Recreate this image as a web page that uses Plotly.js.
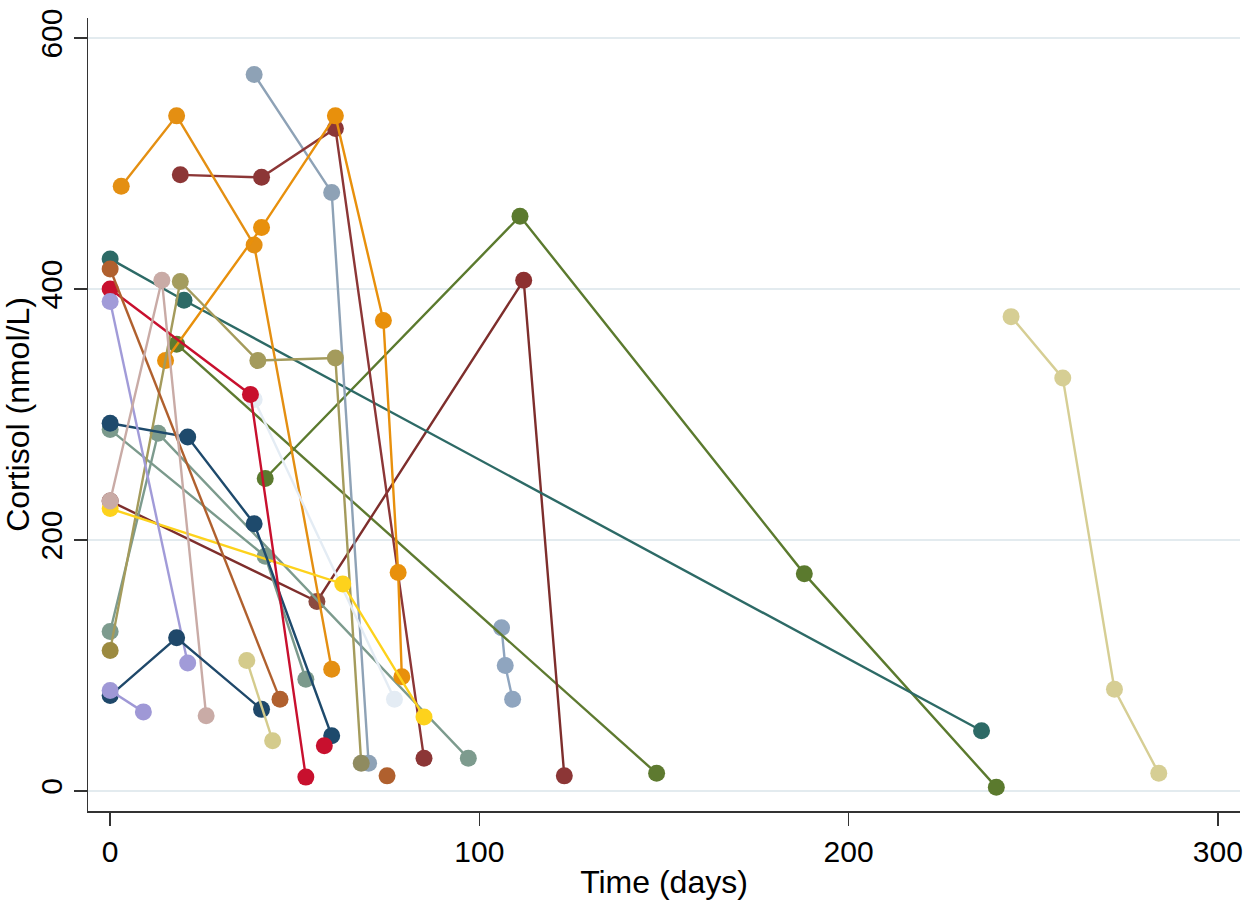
<!DOCTYPE html>
<html>
<head>
<meta charset="utf-8">
<script src="https://cdn.plot.ly/plotly-3.0.1.min.js"></script>
<style>
html,body{margin:0;padding:0;background:#fff;}
#chart{width:1247px;height:900px;}
</style>
</head>
<body>
<div id="chart"></div>
<script>
// ---- Data: time (days) and cortisol (nmol/L) per patient ----
const p01_t = [0, 20, 236];            const p01_c = [424, 391, 48];
const p02_t = [0, 46];                 const p02_c = [416, 73];
const p03_t = [0, 38, 53];             const p03_c = [400, 316, 11];
const p04_t = [0, 21];                 const p04_c = [390, 102];
const p05_t = [0, 14, 26];             const p05_c = [231, 407, 60];
const p06_t = [0, 56, 112, 123];       const p06_c = [231, 151, 407, 12];
const p07_t = [0, 63, 85];             const p07_c = [225, 165, 59];
const p08_t = [0, 21, 39, 60];         const p08_c = [293, 282, 213, 44];
const p09_t = [0, 42, 53];             const p09_c = [288, 187, 89];
const p10_t = [0, 13, 97];             const p10_c = [127, 285, 26];
const p11_t = [0, 19, 40, 61, 68];     const p11_c = [112, 406, 343, 345, 22];
const p12_t = [18, 148];               const p12_c = [356, 14];
const p13_t = [0, 18, 41];             const p13_c = [76, 122, 65];
const p14_t = [0, 9];                  const p14_c = [80, 63];
const p15_t = [3, 18, 39, 60];         const p15_c = [482, 538, 435, 97];
const p16_t = [15, 41, 61, 74, 78, 79]; const p16_c = [343, 449, 538, 375, 174, 91];
const p17_t = [19, 41, 61, 85];        const p17_c = [491, 489, 528, 26];
const p18_t = [39, 60, 70];            const p18_c = [571, 477, 22];
const p19_t = [39, 77];                const p19_c = [312, 73];
const p20_t = [42, 111, 188, 240];     const p20_c = [249, 458, 173, 3];
const p21_t = [37, 44];                const p21_c = [104, 40];
const p22_t = [106, 107, 109];         const p22_c = [130, 100, 73];
const p23_t = [244, 258, 272, 284];    const p23_c = [378, 329, 81, 14];
const p24_t = [58];                    const p24_c = [36];
const p25_t = [75];                    const p25_c = [12];

const xTicks = [0, 100, 200, 300];
const yTicks = [0, 200, 400, 600];
const xTitle = 'Time (days)';
const yTitle = 'Cortisol (nmol/L)';

const patients = [
  [p23_t, p23_c], [p22_t, p22_c], [p20_t, p20_c], [p12_t, p12_c],
  [p06_t, p06_c], [p01_t, p01_c], [p10_t, p10_c], [p09_t, p09_c],
  [p18_t, p18_c], [p17_t, p17_c], [p15_t, p15_c], [p16_t, p16_c],
  [p11_t, p11_c], [p19_t, p19_c], [p07_t, p07_c], [p08_t, p08_c],
  [p03_t, p03_c], [p02_t, p02_c], [p04_t, p04_c], [p05_t, p05_c],
  [p13_t, p13_c], [p14_t, p14_c], [p21_t, p21_c], [p24_t, p24_c],
  [p25_t, p25_c]
];
const colors = [
  '#d6ce94', '#8fa5bf', '#5b7a2e', '#5e7a30',
  '#7e2e2c', '#2d6a66', '#7d9b8e', '#7b9a8c',
  '#8ea2b6', '#8c3636', '#e48f12', '#e8900c',
  '#a49b5c', '#e4ecf4', '#fdd21c', '#1e4a6c',
  '#c8102e', '#b0602e', '#a19bd8', '#c9aba6',
  '#1f486a', '#9f98d6', '#d4cb8c', '#c8102e',
  '#b0602e'
];
const markerColors = {4: ['#7e2e2c', '#8b4a40', '#8c3030', '#8c3636'], 12: ['#9c8a40', '#a49c5e', '#a49b5c', '#a49b5c', '#8f8b60']};

const traces = patients.map(function (p, i) {
  return {
    x: p[0], y: p[1], type: 'scatter', mode: 'lines+markers',
    line: {color: colors[i], width: 2.4},
    marker: {color: markerColors[i] || colors[i], size: 17},
    hoverinfo: 'x+y'
  };
});

const layout = {
  width: 1247, height: 900,
  paper_bgcolor: '#ffffff', plot_bgcolor: '#ffffff',
  showlegend: false,
  margin: {l: 88, r: 7, t: 18, b: 89},
  font: {family: 'Liberation Sans, Arial, sans-serif', color: '#000'},
  xaxis: {
    range: [-6, 306], tickvals: xTicks, ticktext: xTicks.map(String),
    showgrid: false, zeroline: false, showline: true, linecolor: '#333', linewidth: 1.5,
    ticks: 'outside', ticklen: 13, tickwidth: 1.5, tickcolor: '#333',
    tickfont: {size: 30}, title: {text: xTitle, font: {size: 32}, standoff: 8}
  },
  yaxis: {
    range: [-16, 616], tickvals: yTicks, ticktext: yTicks.map(String), tickangle: -90,
    showgrid: true, gridcolor: '#e3ebef', gridwidth: 1.2, zeroline: false,
    showline: true, linecolor: '#333', linewidth: 1.5,
    ticks: 'outside', ticklen: 13, tickwidth: 1.5, tickcolor: '#333',
    tickfont: {size: 30}, title: {text: yTitle, font: {size: 32}, standoff: 6}
  }
};

Plotly.newPlot('chart', traces, layout, {displayModeBar: false, staticPlot: true});
</script>
</body>
</html>
